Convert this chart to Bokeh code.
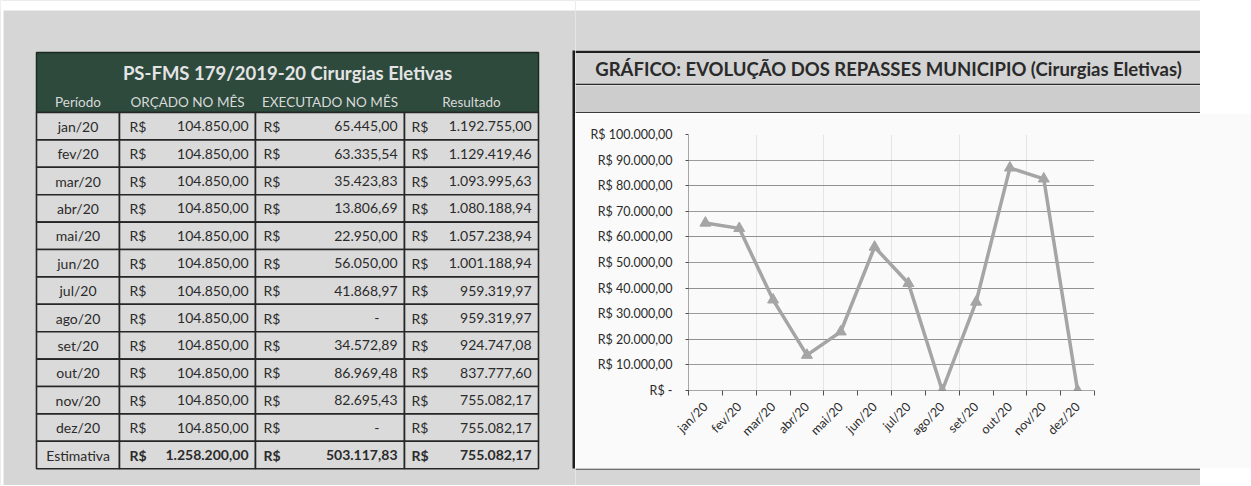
import math
from bokeh.plotting import figure
from bokeh.models import (ColumnDataSource, Range1d, LinearAxis,
                          FixedTicker, CustomJSTickFormatter, Legend, LegendItem, Grid)
from bokeh.layouts import row, column
from bokeh.embed import file_html
from bokeh.resources import INLINE
from bokeh.core.properties import value

# ---------------- data ----------------
months = ["jan/20", "fev/20", "mar/20", "abr/20", "mai/20", "jun/20",
          "jul/20", "ago/20", "set/20", "out/20", "nov/20", "dez/20"]
orcado = [104850.00, 104850.00, 104850.00, 104850.00, 104850.00, 104850.00,
          104850.00, 104850.00, 104850.00, 104850.00, 104850.00, 104850.00]
executado = [65445.00, 63335.54, 35423.83, 13806.69, 22950.00, 56050.00,
             41868.97, 0.00, 34572.89, 86969.48, 82695.43, 0.00]
resultado = [1192755.00, 1129419.46, 1093995.63, 1080188.94, 1057238.94, 1001188.94,
             959319.97, 959319.97, 924747.08, 837777.60, 755082.17, 755082.17]
total_label = "Estimativa"
total_orcado = 1258200.00
total_executado = 503117.83
total_resultado = 755082.17
table_title = "PS-FMS 179/2019-20 Cirurgias Eletivas"
col_headers = ["Período", "ORÇADO NO MÊS", "EXECUTADO NO MÊS", "Resultado"]
chart_title = "GRÁFICO: EVOLUÇÃO DOS REPASSES MUNICIPIO (Cirurgias Eletivas)"
series_name = "Série3"
y_ticks = [0, 10000, 20000, 30000, 40000, 50000, 60000, 70000, 80000, 90000, 100000]

# ---------------- style ----------------
FONT_NAME = "Lato"
FONT = value(FONT_NAME)
PAGE_BG = "#d6d6d6"
CELL_BG = "#dadada"
HEAD_BG = "#2d4a3d"
DARK = "#262626"
TXT = "#2b2b2b"
SERIES = "#a5a5a5"
WHITE = "#fafafa"
VAL_SIZE = "14px"
PAGE_H = 485


def brl(v):
    s = f"{v:,.2f}"
    return s.replace(",", "X").replace(".", ",").replace("X", ".")


def canvas(w, h, x0, y0, fill=PAGE_BG):
    p = figure(width=w, height=h, x_range=Range1d(x0, x0 + w), y_range=Range1d(y0 + h, y0),
               output_backend="svg", toolbar_location=None, min_border=0,
               x_axis_location=None, y_axis_location=None, frame_align=False,
               background_fill_color=fill, border_fill_color=fill, outline_line_color=None)
    p.grid.visible = False
    p.quad(left=[x0], right=[x0 + w], top=[y0], bottom=[y0 + h], fill_color=fill, line_color=None)
    if y0 < 10:
        p.quad(left=[x0], right=[x0 + w], top=[0], bottom=[10], fill_color="#ffffff", line_color=None)
    return p


# ---------------- left: table ----------------
left = canvas(575, PAGE_H, 0, 0)
left.quad(left=[0], right=[3], top=[0], bottom=[PAGE_H], fill_color="#ffffff", line_color=None)
tx = [36, 119, 255, 404, 538]
head_top, head_bot = 52, 112
row_h = 27.4
nrows = len(months) + 1

left.quad(left=[tx[0]], right=[tx[-1]], top=[head_top], bottom=[head_bot],
          fill_color=HEAD_BG, line_color="#1c2a24", line_width=1.5)
left.text(x=[(tx[0] + tx[-1]) / 2], y=[72], text=[table_title], text_font=FONT,
          text_font_size="18.5px", text_font_style="bold", text_color="#e4e4e4",
          text_align="center", text_baseline="middle")
left.text(x=[(tx[i] + tx[i + 1]) / 2 for i in range(4)], y=[101.5] * 4, text=col_headers,
          text_font=FONT, text_font_size="13.5px", text_color="#d9d9d9",
          text_align="center", text_baseline="middle")

ql, qr, qt, qb = [], [], [], []
for i in range(nrows):
    for c in range(4):
        ql.append(tx[c]); qr.append(tx[c + 1])
        qt.append(head_bot + i * row_h); qb.append(head_bot + (i + 1) * row_h)
left.quad(left=ql, right=qr, top=qt, bottom=qb, fill_color=CELL_BG,
          line_color=DARK, line_width=1.6)

yc = [head_bot + (i + 0.5) * row_h for i in range(nrows)]
n = len(months)
rs_x = [129, 263, 411]
val_x = [248, 397, 531]

left.text(x=[(tx[0] + tx[1]) / 2] * nrows, y=yc, text=months + [total_label], text_font=FONT,
          text_font_size=VAL_SIZE, text_color=TXT, text_align="center", text_baseline="middle")
for c in range(3):
    left.text(x=[rs_x[c]] * n, y=yc[:n], text=["R$"] * n, text_font=FONT,
              text_font_size=VAL_SIZE, text_color=TXT, text_align="left", text_baseline="middle")
    left.text(x=[rs_x[c]], y=[yc[n]], text=["R$"], text_font=FONT, text_font_style="bold",
              text_font_size=VAL_SIZE, text_color=TXT, text_align="left", text_baseline="middle")

orc_txt = [brl(v) for v in orcado]
exe_txt = [brl(v) if v else "-" for v in executado]
res_txt = [brl(v) for v in resultado]
exe_x = [val_x[1] if v else val_x[1] - 18 for v in executado]
left.text(x=[val_x[0]] * n, y=yc[:n], text=orc_txt, text_font=FONT, text_font_size=VAL_SIZE,
          text_color=TXT, text_align="right", text_baseline="middle")
left.text(x=exe_x, y=yc[:n], text=exe_txt, text_font=FONT, text_font_size=VAL_SIZE,
          text_color=TXT, text_align="right", text_baseline="middle")
left.text(x=[val_x[2]] * n, y=yc[:n], text=res_txt, text_font=FONT, text_font_size=VAL_SIZE,
          text_color=TXT, text_align="right", text_baseline="middle")
left.text(x=val_x, y=[yc[n]] * 3,
          text=[brl(total_orcado), brl(total_executado), brl(total_resultado)],
          text_font=FONT, text_font_size=VAL_SIZE, text_font_style="bold",
          text_color=TXT, text_align="right", text_baseline="middle")

# chart box left border
left.quad(left=[572], right=[575], top=[50], bottom=[468], fill_color="#1e1e1e", line_color=None)

# ---------------- middle: chart box ----------------
top_gray = canvas(625, 50, 575, 0)

title_fig = canvas(625, 35, 575, 50, fill="#d3d3d3")
title_fig.quad(left=[575], right=[1200], top=[50], bottom=[52.5], fill_color="#1e1e1e", line_color=None)
title_fig.quad(left=[575], right=[1200], top=[83.3], bottom=[85], fill_color="#2a2a2a", line_color=None)
title_fig.text(x=[888], y=[68], text=[chart_title], text_font=FONT, text_font_size="18.5px",
               text_font_style="bold", text_color="#2a2a2a", text_align="center",
               text_baseline="middle")

strip_fig = canvas(625, 28, 575, 85, fill="#cdcdcd")
strip_fig.quad(left=[575], right=[1200], top=[111.5], bottom=[113], fill_color="#3a3a3a", line_color=None)

# category slots: month i occupies [i, i+1] on the x scale, point at its centre
x_centres = [i + 0.5 for i in range(len(months))]
x_edges = list(range(len(months) + 1))

chart = figure(frame_width=406, frame_height=256, x_range=Range1d(0, len(months)),
               y_range=Range1d(0, 100000), output_backend="svg", toolbar_location=None,
               x_axis_location=None, y_axis_location=None, frame_align=False,
               min_border_left=113, min_border_right=106, min_border_top=21, min_border_bottom=78,
               background_fill_color=WHITE, border_fill_color=WHITE, outline_line_color=None)

yaxis = LinearAxis(ticker=FixedTicker(ticks=y_ticks),
                   formatter=CustomJSTickFormatter(code=r"""
if (tick == 0) { return "R$ -"; }
const s = Math.round(tick).toString().replace(/\B(?=(\d{3})+(?!\d))/g, ".");
return "R$ " + s + ",00";
"""),
                   major_tick_out=3, major_tick_in=0, minor_tick_out=0, minor_tick_in=0,
                   axis_line_color="#505050", axis_line_dash="1 1",
                   major_tick_line_color="#505050",
                   major_label_text_font=FONT_NAME, major_label_text_font_size="12.5px",
                   major_label_text_color=TXT, major_label_standoff=13)
chart.add_layout(yaxis, "left")
chart.add_layout(Grid(dimension=1, ticker=FixedTicker(ticks=y_ticks),
                      grid_line_color="#3c3c3c", grid_line_dash="1 1", grid_line_width=1.2))

xaxis = LinearAxis(ticker=FixedTicker(ticks=x_centres, minor_ticks=x_edges),
                   formatter=CustomJSTickFormatter(args=dict(labels=months),
                                                   code="return labels[Math.floor(tick)];"),
                   major_tick_out=0, major_tick_in=0, minor_tick_out=5, minor_tick_in=0,
                   minor_tick_line_color="#505050",
                   axis_line_color="#505050", axis_line_dash="1 1",
                   major_label_orientation=math.pi / 4,
                   major_label_text_font=FONT_NAME, major_label_text_font_size="12.5px",
                   major_label_text_color=TXT, major_label_standoff=9)
chart.add_layout(xaxis, "below")

src = ColumnDataSource(dict(x=x_centres, month=months, value=executado))
r_line = chart.line("x", "value", source=src, line_color=SERIES, line_width=3.5)
r_mark = chart.scatter("x", "value", source=src, marker="triangle", size=11,
                       fill_color=SERIES, line_color=SERIES)
legend = Legend(items=[LegendItem(label=series_name, renderers=[r_line, r_mark])],
                location="center", border_line_color=None, background_fill_alpha=0,
                label_text_font=FONT_NAME, label_text_font_size="13px", label_text_color=TXT,
                glyph_width=28, glyph_height=20, label_standoff=2, padding=0, margin=0)
chart.add_layout(legend, "right")

bottom_gray = canvas(625, PAGE_H - 468, 575, 468)
bottom_gray.quad(left=[575], right=[1200], top=[468], bottom=[469.5], fill_color="#707070", line_color=None)

right = canvas(50, PAGE_H, 1200, 0)
right.quad(left=[1200], right=[1202.5], top=[50], bottom=[113], fill_color="#1e1e1e", line_color=None)
right.quad(left=[1200], right=[1201.5], top=[113], bottom=[469.5], fill_color="#707070", line_color=None)

middle = column(top_gray, title_fig, strip_fig, chart, bottom_gray, spacing=0)
layout = row(left, middle, right, spacing=0)

open("out.html", "w").write(file_html(layout, INLINE))
